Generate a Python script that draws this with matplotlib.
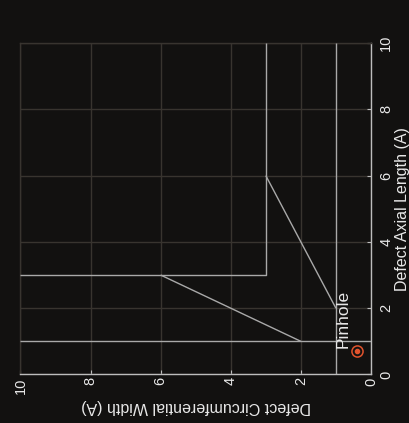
import matplotlib
matplotlib.use("Agg")
import matplotlib.pyplot as plt

plt.rcParams['font.family'] = ['Liberation Sans', 'DejaVu Sans']

# Axis ticks
tick_values = [0, 2, 4, 6, 8, 10]
tick_labels = ["0", "2", "4", "6", "8", "10"]

# Class boundary segments (W = circumferential width, L = axial length, in A)
slot_w = [1, 1]
slot_l = [0, 10]
circ_slot_w = [0, 10]
circ_slot_l = [1, 1]
general_w = [10, 3, 3]
general_l = [3, 3, 10]
circ_groove_w = [6, 2]
circ_groove_l = [3, 1]
axial_groove_w = [3, 1]
axial_groove_l = [6, 2]

# Pinhole sample
pin_w = [0.4]
pin_l = [0.7]

BG = "#121110"
GRID = "#38342f"
LINE = "#a9a9a9"
SPINE = "#bdbdbd"
TEXT = "#e8e8e8"
RED = "#e2532d"

fig = plt.figure(figsize=(4.09, 4.23), dpi=100, facecolor=BG)
ax = fig.add_axes([0.050, 0.1147, 0.857, 0.7836], facecolor=BG)

ax.set_xlim(10, 0)
ax.set_ylim(0, 10)

ax.set_xticks(tick_values)
ax.set_xticklabels(tick_labels, rotation=90)
ax.set_yticks(tick_values)
ax.set_yticklabels(tick_labels, rotation=90, va="center")
ax.yaxis.tick_right()
ax.yaxis.set_label_position("right")

ax.tick_params(axis="both", direction="in", length=3, width=0.8,
               colors=SPINE, labelcolor=TEXT, labelsize=10.5)
ax.tick_params(axis="x", pad=2)
ax.tick_params(axis="y", pad=6)

ax.grid(True, color=GRID, linewidth=1.0)
ax.set_axisbelow(True)

for side in ("top", "left"):
    ax.spines[side].set_color(GRID)
    ax.spines[side].set_linewidth(1.0)
for side in ("bottom", "right"):
    ax.spines[side].set_color(SPINE)
    ax.spines[side].set_linewidth(1.0)

for w, l in [(slot_w, slot_l), (circ_slot_w, circ_slot_l),
             (general_w, general_l), (circ_groove_w, circ_groove_l),
             (axial_groove_w, axial_groove_l)]:
    ax.plot(w, l, color=LINE, linewidth=1.0, solid_capstyle="butt", zorder=3)

ax.plot(pin_w, pin_l, linestyle="none", marker="o", markersize=8,
        markerfacecolor="none", markeredgecolor=RED, markeredgewidth=1.1, zorder=4)
ax.plot(pin_w, pin_l, linestyle="none", marker="o", markersize=3,
        markerfacecolor=RED, markeredgecolor=RED, zorder=4)

ax.text(0.8, 1.67, "Pinhole", rotation=90, ha="center", va="center",
        color=TEXT, fontsize=12.5, zorder=5)

ax.set_xlabel("Defect Circumferential Width (A)", rotation=180,
              color=TEXT, fontsize=11.5, labelpad=4)
ax.set_ylabel("Defect Axial Length (A)", rotation=90,
              color=TEXT, fontsize=11.5, labelpad=1.5)

fig.savefig("out.png", dpi=100, facecolor=BG)
